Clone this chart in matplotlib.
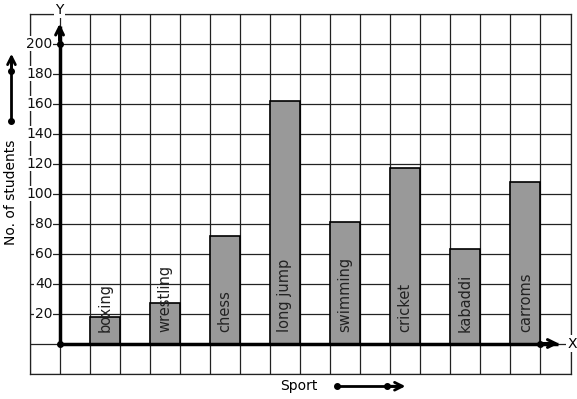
import matplotlib
matplotlib.use("Agg")
import matplotlib.pyplot as plt

sports = ["boxing", "wrestling", "chess", "long jump", "swimming", "cricket", "kabaddi", "carroms"]
students = [18, 27, 72, 162, 81, 117, 63, 108]
ytick_values = [20, 40, 60, 80, 100, 120, 140, 160, 180, 200]

W, H = 577, 399
fig = plt.figure(figsize=(W / 100, H / 100), dpi=100)
ax = fig.add_axes([29.5 / W, 1 - 373.5 / H, 541 / W, 360 / H])
ax.set_xlim(-1, 17)
ax.set_ylim(-20, 220)

grid_color = "#222222"
ax.set_xticks(range(-1, 18))
ax.set_yticks(range(-20, 221, 20))
ax.grid(True, color=grid_color, linewidth=0.9, zorder=0)
ax.set_axisbelow(True)
ax.tick_params(length=0, labelbottom=False, labelleft=False)
for s in ax.spines.values():
    s.set_color(grid_color)
    s.set_linewidth(0.9)

# bars
for i, (name, v) in enumerate(zip(sports, students)):
    x0 = 1 + 2 * i
    ax.bar(x0 + 0.5, v, width=1, color="#999999", edgecolor="black", linewidth=1.2, zorder=2)
    ax.text(x0 + 0.5, 8, name, rotation=90, ha="center", va="bottom", fontsize=10.5,
            color="#222222", zorder=4)

# axes lines
ax.plot([0, 0], [0, 212], color="black", lw=2.5, zorder=3, solid_capstyle="butt")
ax.plot([0, 16.6], [0, 0], color="black", lw=2.5, zorder=3, solid_capstyle="butt")
ax.annotate("", xy=(0, 215), xytext=(0, 200),
            arrowprops=dict(arrowstyle="->", lw=2.2, color="black", mutation_scale=14), zorder=3)
ax.annotate("", xy=(16.7, 0), xytext=(16.0, 0),
            arrowprops=dict(arrowstyle="->", lw=2.2, color="black", mutation_scale=14), zorder=3)
ax.plot([0, 0, 16], [0, 200, 0], "o", color="black", markersize=4, zorder=4)

ax.text(0, 222.3, "Y", ha="center", va="center", fontsize=10,
        bbox=dict(facecolor="white", edgecolor="none", pad=1), clip_on=False, zorder=5)
ax.text(16.9, 0, "X", ha="left", va="center", fontsize=10,
        bbox=dict(facecolor="white", edgecolor="none", pad=1), clip_on=False, zorder=5)

for v in ytick_values:
    ax.text(-0.23, v, str(v), ha="right", va="center", fontsize=10, color="#111111",
            bbox=dict(facecolor="white", edgecolor="none", pad=0.5), zorder=5)

# left annotation
ax.text(-1.6, 101, "No. of students", rotation=90, ha="center", va="center", fontsize=10,
        clip_on=False)
ax.plot([-1.6, -1.6], [148.3, 188], color="black", lw=2, clip_on=False, zorder=5)
ax.annotate("", xy=(-1.6, 195), xytext=(-1.6, 180), annotation_clip=False,
            arrowprops=dict(arrowstyle="->", lw=2, color="black", mutation_scale=14))
ax.plot([-1.6, -1.6], [148.3, 181.7], "o", color="black", markersize=4, clip_on=False, zorder=6)

# bottom annotation
ax.text(7.97, -28.5, "Sport", ha="center", va="center", fontsize=10, clip_on=False)
ax.plot([9.23, 11.2], [-28.5, -28.5], color="black", lw=2, clip_on=False, zorder=5)
ax.annotate("", xy=(11.6, -28.5), xytext=(10.9, -28.5), annotation_clip=False,
            arrowprops=dict(arrowstyle="->", lw=2, color="black", mutation_scale=14))
ax.plot([9.23, 10.9], [-28.5, -28.5], "o", color="black", markersize=4, clip_on=False, zorder=6)

fig.savefig("out.png", dpi=100)
